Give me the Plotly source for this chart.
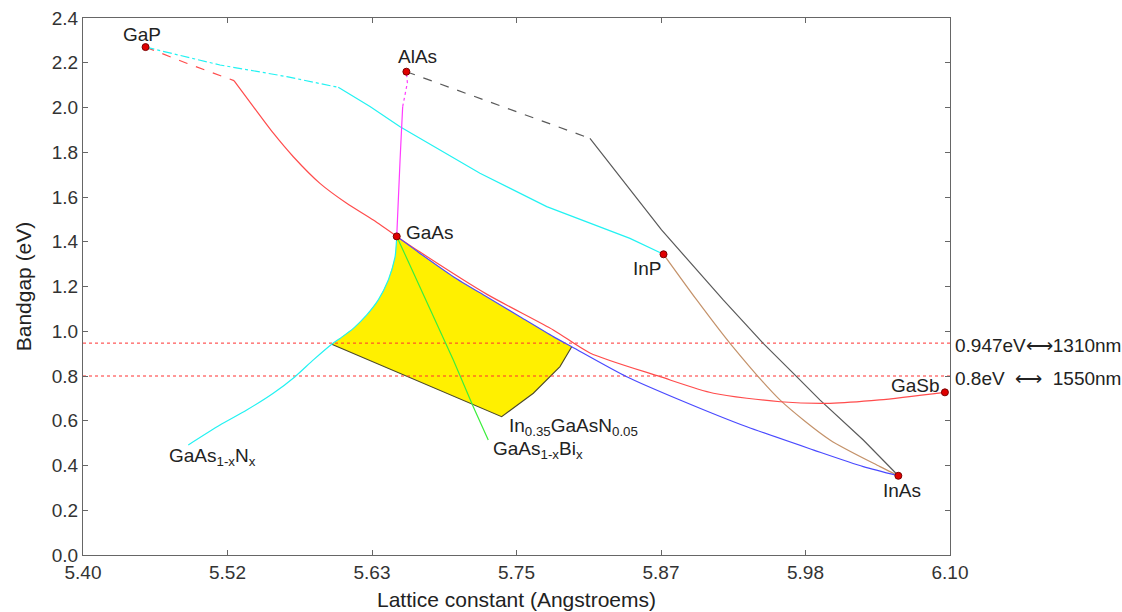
import numpy as np
import plotly.graph_objects as go

# ---------------- data ----------------
compounds = ["GaP", "AlAs", "GaAs", "InP", "InAs", "GaSb"]
comp_a = [5.4505, 5.6611, 5.6533, 5.8687, 6.0583, 6.0959]
comp_eg = [2.27, 2.16, 1.424, 1.344, 0.354, 0.727]

# GaP - GaAs (red)
gapgaas_dash_x = [5.4505, 5.4837, 5.5219]
gapgaas_dash_y = [2.27, 2.198, 2.120]
gapgaas_x = [5.5219, 5.5375, 5.5537, 5.5698, 5.5913, 5.6129, 5.6344, 5.6533]
gapgaas_y = [2.120, 2.004, 1.885, 1.780, 1.661, 1.572, 1.497, 1.424]

# GaP - InP (cyan)
gapinp_dash_x = [5.4505, 5.5106, 5.5645, 5.6061]
gapinp_dash_y = [2.27, 2.190, 2.138, 2.090]
gapinp_x = [5.6061, 5.6317, 5.6560, 5.6721, 5.7205, 5.7744, 5.8093, 5.8416, 5.8687]
gapinp_y = [2.090, 2.004, 1.914, 1.862, 1.706, 1.557, 1.482, 1.415, 1.344]

# AlAs - InAs (gray)
alasinas_dash_x = [5.6611, 5.7205, 5.7530, 5.8093]
alasinas_dash_y = [2.16, 2.041, 1.974, 1.862]
alasinas_x = [5.8093, 5.8671, 5.9169, 5.9492, 5.9762, 5.9949, 6.0300, 6.0583]
alasinas_y = [1.862, 1.453, 1.140, 0.946, 0.797, 0.693, 0.514, 0.354]

# GaAs - AlAs (magenta)
gaasalas_x = [5.6533, 5.6560, 5.6573, 5.6581]
gaasalas_y = [1.424, 1.765, 1.914, 2.004]
gaasalas_dot_x = [5.6581, 5.6600, 5.6619, 5.6611]
gaasalas_dot_y = [2.004, 2.063, 2.111, 2.16]

# InP - InAs (brown)
inpinas_x = [5.8687, 5.8955, 5.9224, 5.9627, 6.0031, 6.0435, 6.0583]
inpinas_y = [1.344, 1.140, 0.946, 0.693, 0.514, 0.395, 0.354]

# GaAs - InAs (blue)
gaasinas_x = [5.6533, 5.6721, 5.6990, 5.7259, 5.7528, 5.7797, 5.7946, 5.8390,
              5.8820, 5.9360, 5.9900, 6.0300, 6.0583]
gaasinas_y = [1.424, 1.348, 1.244, 1.154, 1.065, 0.976, 0.931, 0.797,
              0.693, 0.573, 0.469, 0.395, 0.354]

# GaAs - GaSb (red)
gaasgasb_x = [5.6533, 5.6721, 5.7259, 5.7797, 5.8093, 5.8660, 5.9090, 5.9630,
              6.0030, 6.0430, 6.0959]
gaasgasb_y = [1.424, 1.354, 1.166, 1.006, 0.903, 0.797, 0.723, 0.685,
              0.678, 0.693, 0.727]

# GaAs(1-x)N(x) (cyan)
gaasn_x = [5.6533, 5.6519, 5.6465, 5.6384, 5.6291, 5.6183, 5.6075, 5.6008,
           5.5860, 5.5712, 5.5536, 5.5322, 5.5106, 5.4850]
gaasn_y = [1.424, 1.331, 1.229, 1.140, 1.073, 1.013, 0.968, 0.942,
           0.872, 0.797, 0.723, 0.648, 0.581, 0.492]

# GaAs(1-x)Bi(x) (green)
gaasbi_x = [5.6533, 5.6721, 5.6990, 5.7151, 5.7272]
gaasbi_y = [1.424, 1.199, 0.872, 0.663, 0.514]

# InGaAsN region (yellow)
region_x = [5.6533, 5.6721, 5.6990, 5.7259, 5.7528, 5.7797, 5.7946,
            5.7851, 5.7636, 5.7380, 5.6008,
            5.6075, 5.6183, 5.6291, 5.6384, 5.6465, 5.6519, 5.6533]
region_y = [1.424, 1.348, 1.244, 1.154, 1.065, 0.976, 0.931,
            0.842, 0.723, 0.618, 0.942,
            0.968, 1.013, 1.073, 1.140, 1.229, 1.331, 1.424]
region_edge_x = [5.7946, 5.7851, 5.7636, 5.7380, 5.6008]
region_edge_y = [0.931, 0.842, 0.723, 0.618, 0.942]

# telecom wavelengths
tele_eg = [0.947, 0.8]
tele_text = ["0.947eV\u27f71310nm", "0.8eV\u00a0\u00a0\u27f7\u00a0\u00a01550nm"]

x_range = [5.40, 6.10]
y_range = [0.0, 2.4]
x_tick_labels = ["5.40", "5.52", "5.63", "5.75", "5.87", "5.98", "6.10"]
y_tick_vals = [0.0, 0.2, 0.4, 0.6, 0.8, 1.0, 1.2, 1.4, 1.6, 1.8, 2.0, 2.2, 2.4]

# ---------------- figure ----------------
RED = "#ff4c4c"
CYAN = "#22f2f2"
BLUE = "#4a4aff"
GRAY = "#5a5a5a"
MAG = "#ff3cff"
GREEN = "#3cee3c"
BROWN = "#c4926a"
LW = 1.2

fig = go.Figure()

# yellow region
fig.add_trace(go.Scatter(x=region_x, y=region_y, mode="lines", fill="toself",
                         fillcolor="#fff000", line=dict(width=0), hoverinfo="skip"))
fig.add_trace(go.Scatter(x=region_edge_x, y=region_edge_y, mode="lines",
                         line=dict(color="#4d4a2a", width=1.1), hoverinfo="skip"))

def add_line(x, y, color, dash="solid", shape="spline"):
    fig.add_trace(go.Scatter(x=x, y=y, mode="lines",
                             line=dict(color=color, width=LW, dash=dash, shape=shape,
                                       smoothing=0.7),
                             hoverinfo="skip"))

# horizontal telecom lines
for e in tele_eg:
    fig.add_trace(go.Scatter(x=x_range, y=[e, e], mode="lines",
                             line=dict(color="#ff3030", width=1, dash="dot"),
                             hoverinfo="skip"))

add_line(gapgaas_dash_x, gapgaas_dash_y, RED, "dash", "linear")
add_line(gapgaas_x, gapgaas_y, RED)
add_line(gapinp_dash_x, gapinp_dash_y, CYAN, "dashdot", "linear")
add_line(gapinp_x, gapinp_y, CYAN, "solid", "linear")
add_line(alasinas_dash_x, alasinas_dash_y, GRAY, "dash", "linear")
add_line(alasinas_x, alasinas_y, GRAY, "solid", "linear")
add_line(gaasalas_x, gaasalas_y, MAG)
add_line(gaasalas_dot_x, gaasalas_dot_y, MAG, "dot", "linear")
add_line(inpinas_x, inpinas_y, BROWN)
add_line(gaasgasb_x, gaasgasb_y, RED)
add_line(gaasinas_x, gaasinas_y, BLUE)
add_line(gaasn_x, gaasn_y, CYAN)
add_line(gaasbi_x, gaasbi_y, GREEN, "solid", "linear")

# compound markers
fig.add_trace(go.Scatter(x=comp_a, y=comp_eg, mode="markers",
                         marker=dict(color="#e00000", size=7,
                                     line=dict(color="#7a0000", width=1)),
                         hoverinfo="skip"))

FONT = "Liberation Sans, Arial, sans-serif"
TXT = "#222222"
# compound labels: (xshift, yshift, xanchor)
label_offsets = {
    "GaP": (-4, 13, "center"),
    "AlAs": (11, 15, "center"),
    "GaAs": (7, 4, "left"),
    "InP": (-16, -14, "center"),
    "InAs": (4, -15, "center"),
    "GaSb": (-3, 7, "right"),
}
for name, a, e in zip(compounds, comp_a, comp_eg):
    dx, dy, anc = label_offsets[name]
    fig.add_annotation(x=a, y=e, text=name, showarrow=False, xanchor=anc,
                       yanchor="middle", xshift=dx, yshift=dy,
                       font=dict(family=FONT, size=19, color=TXT))

fig.add_annotation(x=gaasn_x[-1], y=gaasn_y[-1], text="GaAs<sub>1-x</sub>N<sub>x</sub>",
                   showarrow=False, xanchor="left", yanchor="middle",
                   xshift=-21, yshift=-12, font=dict(family=FONT, size=19, color=TXT))
fig.add_annotation(x=region_x[9], y=region_y[9], text="In<sub>0.35</sub>GaAsN<sub>0.05</sub>",
                   showarrow=False, xanchor="left", yanchor="middle",
                   xshift=5, yshift=-10, font=dict(family=FONT, size=19, color=TXT))
fig.add_annotation(x=gaasbi_x[-1], y=gaasbi_y[-1], text="GaAs<sub>1-x</sub>Bi<sub>x</sub>",
                   showarrow=False, xanchor="left", yanchor="middle",
                   xshift=3, yshift=-10, font=dict(family=FONT, size=19, color=TXT))

for e, t in zip(tele_eg, tele_text):
    fig.add_annotation(x=1.0, xref="paper", y=e, yref="y", text=t, showarrow=False,
                       xanchor="left", yanchor="middle", xshift=3, yshift=-2,
                       font=dict(family=FONT, size=19, color=TXT))

axis_common = dict(showline=True, linecolor="#666666", linewidth=1, mirror="ticks",
                   ticks="inside", ticklen=5, tickcolor="#666666", showgrid=False,
                   zeroline=False, tickfont=dict(family=FONT, size=19, color="#333333"))

fig.update_xaxes(range=x_range, tickmode="array",
                 tickvals=list(np.linspace(x_range[0], x_range[1], len(x_tick_labels))),
                 ticktext=x_tick_labels,
                 title=dict(text="Lattice constant (Angstroems)", standoff=10,
                            font=dict(family=FONT, size=21, color=TXT)),
                 **axis_common)
fig.update_yaxes(range=y_range, tickmode="array", tickvals=y_tick_vals,
                 ticktext=[f"{v:.1f}" for v in y_tick_vals],
                 title=dict(text="Bandgap (eV)", standoff=14,
                            font=dict(family=FONT, size=21, color=TXT)),
                 **axis_common)

fig.update_layout(width=1122, height=612, showlegend=False,
                  plot_bgcolor="white", paper_bgcolor="white",
                  margin=dict(l=83, r=172, t=18, b=57, autoexpand=False))

fig.write_html("out.html", config={"displayModeBar": False},
               post_script="document.body.style.margin='0';"
                           "document.body.style.overflow='hidden';")
